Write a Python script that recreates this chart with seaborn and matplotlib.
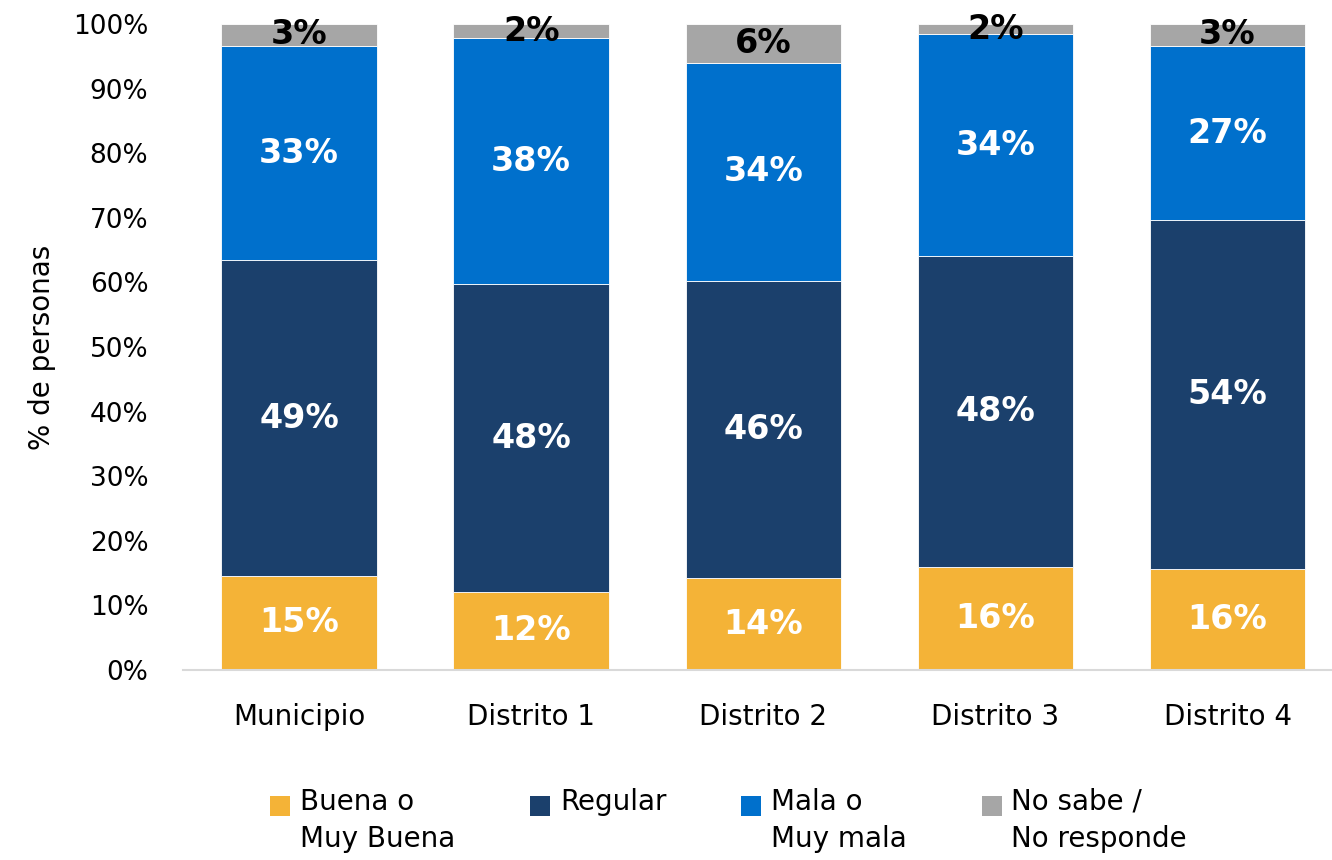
import matplotlib
matplotlib.use("Agg")
import matplotlib.pyplot as plt
from matplotlib.patches import Rectangle
from matplotlib.legend_handler import HandlerPatch
from matplotlib.ticker import FuncFormatter
import seaborn as sns
import pandas as pd
import numpy as np

# Survey results by area (% of people)
categories = ["Municipio", "Distrito 1", "Distrito 2", "Distrito 3", "Distrito 4"]
buena = [14.6, 12.1, 14.2, 15.9, 15.6]
regular = [48.8, 47.6, 46.0, 48.2, 54.0]
mala = [33.2, 38.1, 33.8, 34.3, 27.0]
no_sabe = [3.4, 2.2, 6.0, 1.6, 3.4]

# second blank line on "Regular" keeps every legend entry top-aligned
series_names = ["Buena o\nMuy Buena", "Regular\n ", "Mala o\nMuy mala", "No sabe /\nNo responde"]
series_values = [buena, regular, mala, no_sabe]
colors = ["#F4B337", "#1B406C", "#0070CC", "#A6A6A6"]
label_colors = ["white", "white", "white", "black"]
yticks = [0, 10, 20, 30, 40, 50, 60, 70, 80, 90, 100]

sns.set_theme(style="white")
plt.rcParams["font.family"] = ["DejaVu Sans"]
plt.rcParams["text.color"] = "black"

fig = plt.figure(figsize=(13.32, 8.6), dpi=100)
ax = fig.add_axes([183 / 1332, 1 - 670 / 860, 1 - 183 / 1332, (670 - 24) / 860])

bottom = np.zeros(len(categories))
handles = []
for name, vals, col, lcol in zip(series_names, series_values, colors, label_colors):
    df = pd.DataFrame({"area": categories, "pct": vals})
    sns.barplot(data=df, x="area", y="pct", order=categories, color=col,
                bottom=bottom, width=0.67, errorbar=None, saturation=1,
                edgecolor="white", linewidth=0.6, ax=ax)
    for i, v in enumerate(vals):
        ax.text(i, bottom[i] + v / 2, f"{v:.0f}%", ha="center", va="center",
                color=lcol, fontsize=24, fontweight="bold")
    handles.append(Rectangle((0, 0), 1, 1, facecolor=col, edgecolor="none", label=name))
    bottom = bottom + np.array(vals)

ax.set_xlim(-0.5, 4.45)
ax.set_ylim(0, 100)
ax.set_yticks(yticks)
ax.yaxis.set_major_formatter(FuncFormatter(lambda v, p: f"{v:.0f}%"))
ax.tick_params(axis="y", labelsize=19, colors="black", pad=25, length=0)
ax.tick_params(axis="x", labelsize=20, colors="black", pad=24, length=0)
ax.set_xlabel("")
ax.set_ylabel("% de personas", fontsize=20, color="black", labelpad=12)
for s in ["top", "right", "left"]:
    ax.spines[s].set_visible(False)
ax.spines["bottom"].set_color("#D9D9D9")
ax.spines["bottom"].set_linewidth(1.5)


def square_top(legend, orig_handle, xdescent, ydescent, width, height, fontsize):
    # square sits next to the first text line
    return Rectangle((xdescent, ydescent + fontsize * 0.55), width, width)


leg = fig.legend(handles=handles, loc="upper center", bbox_to_anchor=(0.547, 0.113),
                 ncol=4, frameon=False, fontsize=20, labelcolor="black",
                 handlelength=0.72, handleheight=0.72,
                 handletextpad=0.35, columnspacing=2.7,
                 handler_map={Rectangle: HandlerPatch(patch_func=square_top)})
for t in leg.get_texts():
    t.set_linespacing(1.4)

fig.savefig("out.png", dpi=100)
